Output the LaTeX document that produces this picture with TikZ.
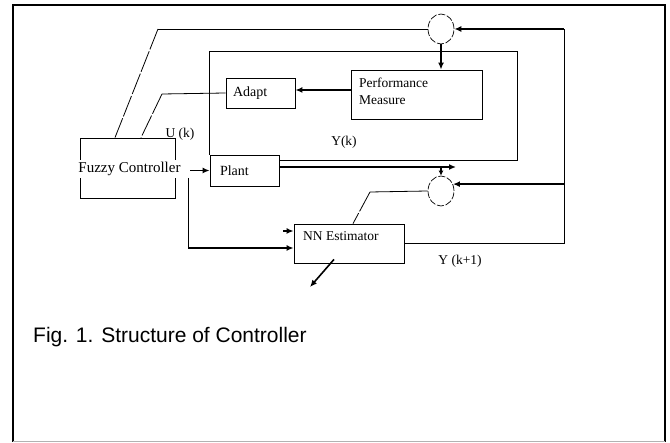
\documentclass[tikz,border=0pt]{standalone}
\usepackage{fontspec}
\setmainfont{Liberation Serif}
\newfontfamily\capfont{Liberation Sans}
\usetikzlibrary{arrows.meta,calc,shapes.geometric}
\begin{document}
\begin{tikzpicture}[x=1pt,y=-1pt,
  box/.style={draw,line width=0.8pt,inner sep=0pt,font=\fontsize{14}{16}\selectfont},
  sum/.style={ellipse,draw,line width=0.7pt,dash pattern=on 7pt off 1.8pt,minimum width=26pt,minimum height=30pt,inner sep=0pt},
  wire/.style={line width=0.8pt},
  slant/.style={line width=0.8pt,dash pattern=on 22pt off 2pt},
  flow/.style={line width=1.6pt,-{Latex[length=7pt,width=6pt]}},
  lbl/.style={font=\fontsize{13.5}{16}\selectfont,inner sep=0pt}]
\useasboundingbox (0,0) rectangle (670,443);
% frame
\draw[line width=2.2pt] (13,442) -- (13,5) -- (665,5) -- (665,442);
\draw[gray!60,line width=1pt] (13,442) -- (665,442);
% blocks
\node[box,minimum width=95pt,minimum height=60pt] (fz) at (127.5,168) {};
\node[fill=white,inner xsep=0pt,inner ysep=2pt,font=\fontsize{15}{17}\selectfont] (fzt) at (129.5,169) {Fuzzy Controller};
\node[box,minimum width=69pt,minimum height=30pt,text width=55pt,align=left] (ad) at (260.5,93) {Adapt};
\node[box,minimum width=131pt,minimum height=49pt] (pm) at (416.5,94.5) {};
\node[lbl,align=left,anchor=west,font=\fontsize{13.5}{17}\selectfont] (pmt) at (359,91) {Performance\\Measure};
\node[box,minimum width=69pt,minimum height=31pt,text width=49pt,align=left] (pl) at (244.5,170.5) {Plant};
\node[box,minimum width=110pt,minimum height=39pt] (nn) at (349,243.5) {};
\node[lbl,anchor=west] (nnt) at (303,236) {NN Estimator};
\node[sum] (tc) at (441,29) {};
\node[sum] (bc) at (441,191) {};
% labels
\node[lbl] (uk) at (180,134) {U (k)};
\node[lbl] (yk) at (344,142) {Y(k)};
\node[lbl] (yk1) at (460,261) {Y (k+1)};
\node[font=\capfont\fontsize{21}{25}\selectfont,anchor=base west,inner sep=0pt] (cap) at (33,343) {Fig. 1. Structure of Controller};
% coordinates
\coordinate (tl) at (158,29);
\coordinate (al) at (162,94);
\coordinate (rx) at (564,0);
\coordinate (ir) at (517,51);
\coordinate (ya) at (456,167);
\coordinate (fo) at (190,170.5);
\coordinate (fd) at (188,178);
\coordinate (ni) at (283,231);
\coordinate (no) at (310,287);
\coordinate (bl) at (370,192);
% connectors
\draw[wire] (tc.west) -- (tl);
\draw[slant] (tl) -- ([xshift=-12.5pt]fz.north);
\draw[wire] (ad.west) -- (al);
\draw[slant] (al) -- ([xshift=13.5pt]fz.north);
\draw[flow] (pm.west |- 0,90) -- (ad.east |- 0,90);
\draw[flow] (tc.south) -- (tc.south |- pm.north);
\draw[wire] (nn.east) -- (nn.east -| rx) -- (rx |- tc.east);
\draw[flow] (rx |- tc.east) -- (tc.east);
\draw[flow] (rx |- bc.30) -- (bc.30);
\draw[wire] (pl.north west) -- (pl.north west |- ir) -- (ir) -- (ir |- 0,160) -- (pl.east |- 0,160);
\draw[flow] (pl.east |- ya) -- (ya);
\draw[line width=1.6pt,-{Latex[length=5pt,width=5pt]}] (bc.north |- ya) -- (bc.north);
\draw[flow] (fo) -- (pl.west);
\draw[line width=1pt] (fd) -- (fd |- 0,248);
\draw[flow] (fd |- 0,248) -- (nn.west |- 0,248);
\draw[flow] (ni) -- (nn.west |- ni);
\draw[flow] ([xshift=-15pt,yshift=4pt]nn.south) -- (no);
\draw[wire] (bc.west) -- (bl);
\draw[slant] (bl) -- ([xshift=4pt]nn.north);
\end{tikzpicture}
\end{document}
